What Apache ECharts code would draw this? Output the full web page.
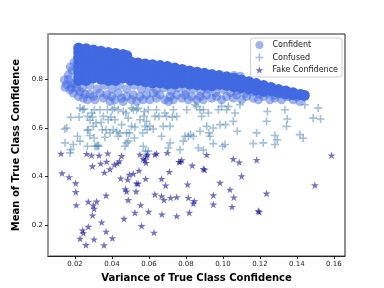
<!DOCTYPE html>
<html>
<head>
<meta charset="utf-8">
<script src="https://cdn.jsdelivr.net/npm/echarts@6/dist/echarts.min.js"></script>
<style>html,body{margin:0;padding:0;background:#fff;}#c{width:384px;height:288px;}</style>
</head>
<body>
<div id="c"></div>
<script>
const xTicks = [0.02, 0.04, 0.06, 0.08, 0.10, 0.12, 0.14, 0.16];
const yTicks = [0.2, 0.4, 0.6, 0.8];

const confidentCore = [
[0.022,0.928],[0.022,0.91],[0.022,0.89],[0.022,0.87],[0.022,0.85],[0.022,0.83],[0.022,0.81],[0.022,0.795],
[0.026,0.925],[0.026,0.91],[0.026,0.89],[0.026,0.87],[0.026,0.85],[0.026,0.83],[0.026,0.81],[0.026,0.795],
[0.030,0.92],[0.030,0.905],[0.030,0.885],[0.030,0.865],[0.030,0.845],[0.030,0.825],[0.030,0.805],
[0.034,0.915],[0.034,0.90],[0.034,0.88],[0.034,0.86],[0.034,0.84],[0.034,0.82],[0.034,0.80],
[0.038,0.91],[0.038,0.895],[0.038,0.875],[0.038,0.855],[0.038,0.835],[0.038,0.815],[0.038,0.795],
[0.042,0.906],[0.042,0.89],[0.042,0.87],[0.042,0.85],[0.042,0.83],[0.042,0.81],[0.042,0.795],
[0.046,0.902],[0.046,0.885],[0.046,0.865],[0.046,0.845],[0.046,0.825],[0.046,0.805],
[0.048,0.897],
[0.050,0.872],[0.050,0.856],[0.050,0.836],[0.050,0.816],[0.050,0.796],
[0.054,0.867],[0.054,0.851],[0.054,0.831],[0.054,0.811],[0.054,0.795],
[0.058,0.863],[0.058,0.847],[0.058,0.827],[0.058,0.807],[0.058,0.79],
[0.062,0.859],[0.062,0.843],[0.062,0.823],[0.062,0.803],[0.062,0.785],
[0.066,0.856],[0.066,0.84],[0.066,0.82],[0.066,0.80],[0.066,0.785],
[0.070,0.852],[0.070,0.836],[0.070,0.816],[0.070,0.796],[0.070,0.78],
[0.074,0.846],[0.074,0.83],[0.074,0.81],[0.074,0.79],[0.074,0.78],
[0.078,0.84],[0.078,0.824],[0.078,0.804],[0.078,0.785],
[0.082,0.834],[0.082,0.818],[0.082,0.798],[0.082,0.78],
[0.086,0.829],[0.086,0.813],[0.086,0.793],[0.086,0.778],
[0.090,0.824],[0.090,0.808],[0.090,0.788],[0.090,0.775],
[0.094,0.819],[0.094,0.803],[0.094,0.783],[0.094,0.773],
[0.098,0.815],[0.098,0.799],[0.098,0.779],
[0.102,0.81],[0.102,0.794],[0.102,0.775],
[0.106,0.804],[0.106,0.788],[0.106,0.77],
[0.110,0.797],[0.110,0.781],[0.110,0.765],
[0.114,0.79],[0.114,0.775],[0.114,0.76],
[0.118,0.782],[0.118,0.768],[0.118,0.755],
[0.122,0.774],[0.122,0.76],[0.122,0.75],
[0.126,0.766],[0.126,0.752],
[0.130,0.758],[0.130,0.746],
[0.134,0.751],[0.134,0.741],
[0.138,0.744],[0.138,0.737],
[0.142,0.737],[0.144,0.733]
];

const confidentEdge = [
[0.0142,0.797],[0.0146,0.767],[0.0155,0.777],[0.0164,0.818],[0.0173,0.756],[0.0182,0.784],[0.0191,0.743],
[0.0209,0.763],[0.0218,0.729],[0.0227,0.749],[0.0245,0.722],[0.0254,0.739],[0.0267,0.715],[0.0281,0.739],
[0.0299,0.729],[0.0308,0.715],[0.0335,0.743],[0.0353,0.722],[0.0371,0.736],[0.0389,0.708],[0.0398,0.729],
[0.0416,0.715],[0.0434,0.743],[0.0452,0.722],[0.0461,0.708],[0.0479,0.729],[0.0506,0.715],[0.0515,0.736],
[0.0533,0.708],[0.0551,0.729],[0.0569,0.715],[0.0587,0.736],[0.0605,0.715],[0.0623,0.743],[0.0641,0.722],
[0.0659,0.736],[0.0686,0.715],[0.0705,0.708],[0.0714,0.729],[0.0732,0.715],[0.075,0.736],[0.0777,0.722],
[0.0795,0.736],[0.0813,0.715],[0.0831,0.729],[0.0858,0.715],[0.0876,0.729],[0.0894,0.715],[0.0912,0.736],
[0.0939,0.722],[0.0966,0.729],[0.0993,0.715],[0.102,0.729],[0.1056,0.722],[0.1074,0.736],[0.1101,0.715],
[0.1128,0.729],[0.1164,0.722],[0.1191,0.715],[0.1218,0.729],[0.1254,0.715],[0.1281,0.722],[0.1317,0.715],
[0.1344,0.729],[0.138,0.715],[0.1416,0.708],[0.1443,0.736],
[0.020,0.78],[0.024,0.765],[0.028,0.775],[0.032,0.76],[0.036,0.775],[0.040,0.76],[0.044,0.775],[0.048,0.76],
[0.052,0.775],[0.056,0.76],[0.060,0.77],[0.064,0.755],[0.068,0.765],[0.072,0.75],[0.076,0.765],[0.080,0.75],
[0.084,0.76],[0.088,0.75],[0.092,0.758],[0.096,0.745],[0.100,0.758],[0.104,0.745],[0.108,0.752],[0.112,0.742],
[0.116,0.748],[0.120,0.738],[0.124,0.742],[0.128,0.735],[0.132,0.738],[0.136,0.73],[0.140,0.728],
[0.0175,0.85],[0.0185,0.835],[0.0165,0.80],[0.0195,0.87],[0.018,0.765],
[0.106,0.815],[0.1095,0.812]
];

const confused = [
[0.0177,0.643],[0.0146,0.538],[0.0144,0.595],[0.0155,0.599],[0.0177,0.510],[0.0173,0.497],[0.0191,0.531],
[0.0213,0.565],[0.0222,0.644],[0.0227,0.681],[0.0227,0.545],[0.0241,0.674],[0.025,0.677],[0.0268,0.647],
[0.0267,0.590],[0.0267,0.524],[0.0272,0.592],[0.0281,0.631],[0.0281,0.568],[0.029,0.661],[0.0295,0.644],
[0.0299,0.606],[0.0303,0.558],[0.0305,0.674],[0.0308,0.524],[0.0314,0.620],[0.0317,0.524],[0.0323,0.528],
[0.0328,0.524],[0.0335,0.674],[0.0341,0.622],[0.0348,0.592],[0.0353,0.647],[0.0362,0.561],[0.0368,0.592],
[0.0375,0.674],[0.038,0.633],[0.0389,0.579],[0.0395,0.644],[0.0402,0.674],[0.0407,0.592],[0.0416,0.633],
[0.0413,0.681],[0.0425,0.586],[0.0434,0.674],[0.0434,0.565],[0.0443,0.579],[0.0452,0.613],[0.0461,0.667],
[0.047,0.524],[0.0476,0.661],[0.0479,0.579],[0.0479,0.538],[0.0488,0.640],[0.0488,0.545],[0.0494,0.579],
[0.0506,0.681],[0.0506,0.606],[0.0515,0.674],[0.0521,0.558],[0.0524,0.603],[0.0533,0.674],[0.0542,0.681],
[0.0551,0.633],[0.0566,0.579],[0.0569,0.524],[0.0573,0.647],[0.0575,0.667],[0.0582,0.504],[0.0578,0.606],
[0.0587,0.627],[0.0591,0.592],[0.0596,0.674],[0.0596,0.504],[0.0605,0.606],[0.0623,0.595],[0.0632,0.647],
[0.0641,0.674],[0.0654,0.647],[0.0668,0.565],[0.0677,0.606],[0.0686,0.661],[0.0695,0.647],[0.0705,0.517],
[0.0714,0.606],[0.0726,0.644],[0.0714,0.538],[0.0732,0.674],[0.075,0.647],[0.0768,0.510],[0.0786,0.545],
[0.0795,0.565],[0.0804,0.674],[0.0813,0.565],[0.0825,0.572],[0.084,0.565],[0.0849,0.695],[0.0858,0.688],
[0.0867,0.517],[0.0876,0.674],[0.0876,0.586],[0.0885,0.647],[0.0894,0.674],[0.0894,0.508],[0.0912,0.606],
[0.0921,0.661],[0.0924,0.579],[0.093,0.565],[0.0948,0.599],[0.0948,0.535],[0.0975,0.674],[0.0984,0.613],
[0.0993,0.688],[0.0998,0.524],[0.1011,0.531],[0.1014,0.613],[0.102,0.674],[0.1029,0.688],[0.1056,0.627],
[0.1065,0.661],[0.1077,0.586],[0.1092,0.695],[0.1164,0.535],[0.1182,0.579],[0.1218,0.538],[0.1236,0.627],
[0.124,0.667],[0.1281,0.568],[0.1281,0.531],[0.1294,0.551],[0.1335,0.674],[0.1344,0.606],[0.1348,0.636],
[0.1416,0.572],[0.1434,0.557],[0.1443,0.695],[0.1488,0.640],[0.1515,0.681],[0.1528,0.636]
];

const fakeConfidence = [
[0.0124,0.494],[0.0130,0.413],[0.0168,0.397],[0.0204,0.372],[0.0204,0.336],[0.0207,0.282],[0.0263,0.493],
[0.029,0.487],[0.0294,0.442],[0.0299,0.281],[0.0303,0.267],[0.0295,0.240],[0.0272,0.296],[0.0241,0.178],
[0.0245,0.167],[0.0227,0.144],[0.0259,0.118],[0.0272,0.193],[0.0303,0.141],[0.033,0.487],[0.0317,0.297],
[0.0339,0.453],[0.0344,0.211],[0.0359,0.416],[0.0368,0.322],[0.0368,0.173],[0.0357,0.117],[0.0371,0.461],
[0.0377,0.495],[0.0389,0.430],[0.0402,0.146],[0.0413,0.448],[0.0429,0.454],[0.044,0.463],[0.0447,0.392],
[0.0452,0.484],[0.0465,0.226],[0.0472,0.348],[0.0479,0.338],[0.0485,0.387],[0.0488,0.303],[0.0494,0.407],
[0.0515,0.411],[0.0524,0.251],[0.053,0.338],[0.0533,0.371],[0.0541,0.370],[0.0546,0.424],[0.0551,0.490],
[0.0555,0.282],[0.056,0.196],[0.0569,0.472],[0.0578,0.467],[0.0582,0.390],[0.0584,0.456],[0.0587,0.483],
[0.0591,0.490],[0.0598,0.255],[0.0627,0.169],[0.0632,0.490],[0.0632,0.326],[0.0641,0.494],[0.0668,0.390],
[0.0668,0.319],[0.067,0.244],[0.0681,0.303],[0.069,0.363],[0.0699,0.497],[0.071,0.419],[0.0717,0.312],
[0.075,0.315],[0.075,0.237],[0.0762,0.460],[0.0769,0.460],[0.0777,0.467],[0.0813,0.312],[0.0809,0.367],
[0.0818,0.251],[0.0834,0.445],[0.084,0.289],[0.0845,0.299],[0.0894,0.431],[0.0901,0.428],[0.0912,0.489],
[0.0948,0.323],[0.0948,0.285],[0.0984,0.374],[0.1038,0.346],[0.1049,0.275],[0.1056,0.472],[0.1059,0.314],
[0.1088,0.458],[0.1101,0.401],[0.1182,0.468],[0.1191,0.258],[0.1196,0.254],[0.1236,0.330],[0.1497,0.364],
[0.1587,0.487]
];

const FONT = 'DejaVu Sans';
const PLUS = 'path://M4,0H6V4H10V6H6V10H4V6H0V4H4Z';
const STAR = 'path://M50,0L61,35L98,35L68,57L79,91L50,70L21,91L32,57L2,35L39,35Z';

const chart = echarts.init(document.getElementById('c'), null, {renderer: 'canvas'});
chart.setOption({
  animation: false,
  backgroundColor: '#fff',
  grid: {left: 48, right: 39, top: 34, bottom: 31, show: true, borderColor: '#222', borderWidth: 1, backgroundColor: 'transparent'},
  legend: {
    orient: 'vertical', right: 42, top: 38,
    data: ['Confident', 'Confused', 'Fake Confidence'],
    itemWidth: 8, itemHeight: 8, itemGap: 4.5,
    padding: [3, 4, 3, 5],
    backgroundColor: '#fff', borderColor: '#d0d0d0', borderWidth: 1, borderRadius: 3,
    textStyle: {fontFamily: FONT, fontSize: 8, color: '#222', padding: [0, 0, 0, 4]}
  },
  xAxis: {
    type: 'value', min: 0.0054, max: 0.166,
    name: 'Variance of True Class Confidence', nameLocation: 'middle', nameGap: 16,
    nameTextStyle: {fontFamily: FONT, fontSize: 10, fontWeight: 'bold', color: '#000'},
    axisLine: {show: true, onZero: false, lineStyle: {color: '#222', width: 1}},
    axisTick: {show: true, length: 3, customValues: xTicks, lineStyle: {color: '#222'}},
    axisLabel: {customValues: xTicks, fontFamily: FONT, fontSize: 7, color: '#222', margin: 5, formatter: v => v.toFixed(2)},
    splitLine: {show: false}
  },
  yAxis: {
    type: 'value', min: 0.072, max: 0.986,
    name: 'Mean of True Class Confidence', nameLocation: 'middle', nameGap: 18,
    nameTextStyle: {fontFamily: FONT, fontSize: 10, fontWeight: 'bold', color: '#000'},
    axisLine: {show: true, onZero: false, lineStyle: {color: '#9a9a9a', width: 2}},
    axisTick: {show: true, length: 3, customValues: yTicks, lineStyle: {color: '#222'}},
    axisLabel: {customValues: yTicks, fontFamily: FONT, fontSize: 7, color: '#222', margin: 5, formatter: v => v.toFixed(1)},
    splitLine: {show: false}
  },
  series: [
    {name: 'Confident', type: 'scatter', data: confidentEdge, symbol: 'circle', symbolSize: 9,
     emphasis: {disabled: true},
     itemStyle: {color: '#4169E1', opacity: 0.5, borderWidth: 0}},
    {name: 'Confident', type: 'scatter', data: confidentCore, symbol: 'circle', symbolSize: 11,
     emphasis: {disabled: true},
     itemStyle: {color: '#4169E1', opacity: 1, borderWidth: 0}},
    {name: 'Confused', type: 'scatter', data: confused, symbol: PLUS, symbolSize: 8,
     emphasis: {disabled: true},
     itemStyle: {color: '#4682B4', opacity: 0.5, borderWidth: 0}},
    {name: 'Fake Confidence', type: 'scatter', data: fakeConfidence, symbol: STAR, symbolSize: 8,
     emphasis: {disabled: true},
     symbolKeepAspect: true, itemStyle: {color: '#00008B', opacity: 0.55, borderWidth: 0}}
  ]
});
</script>
</body>
</html>
